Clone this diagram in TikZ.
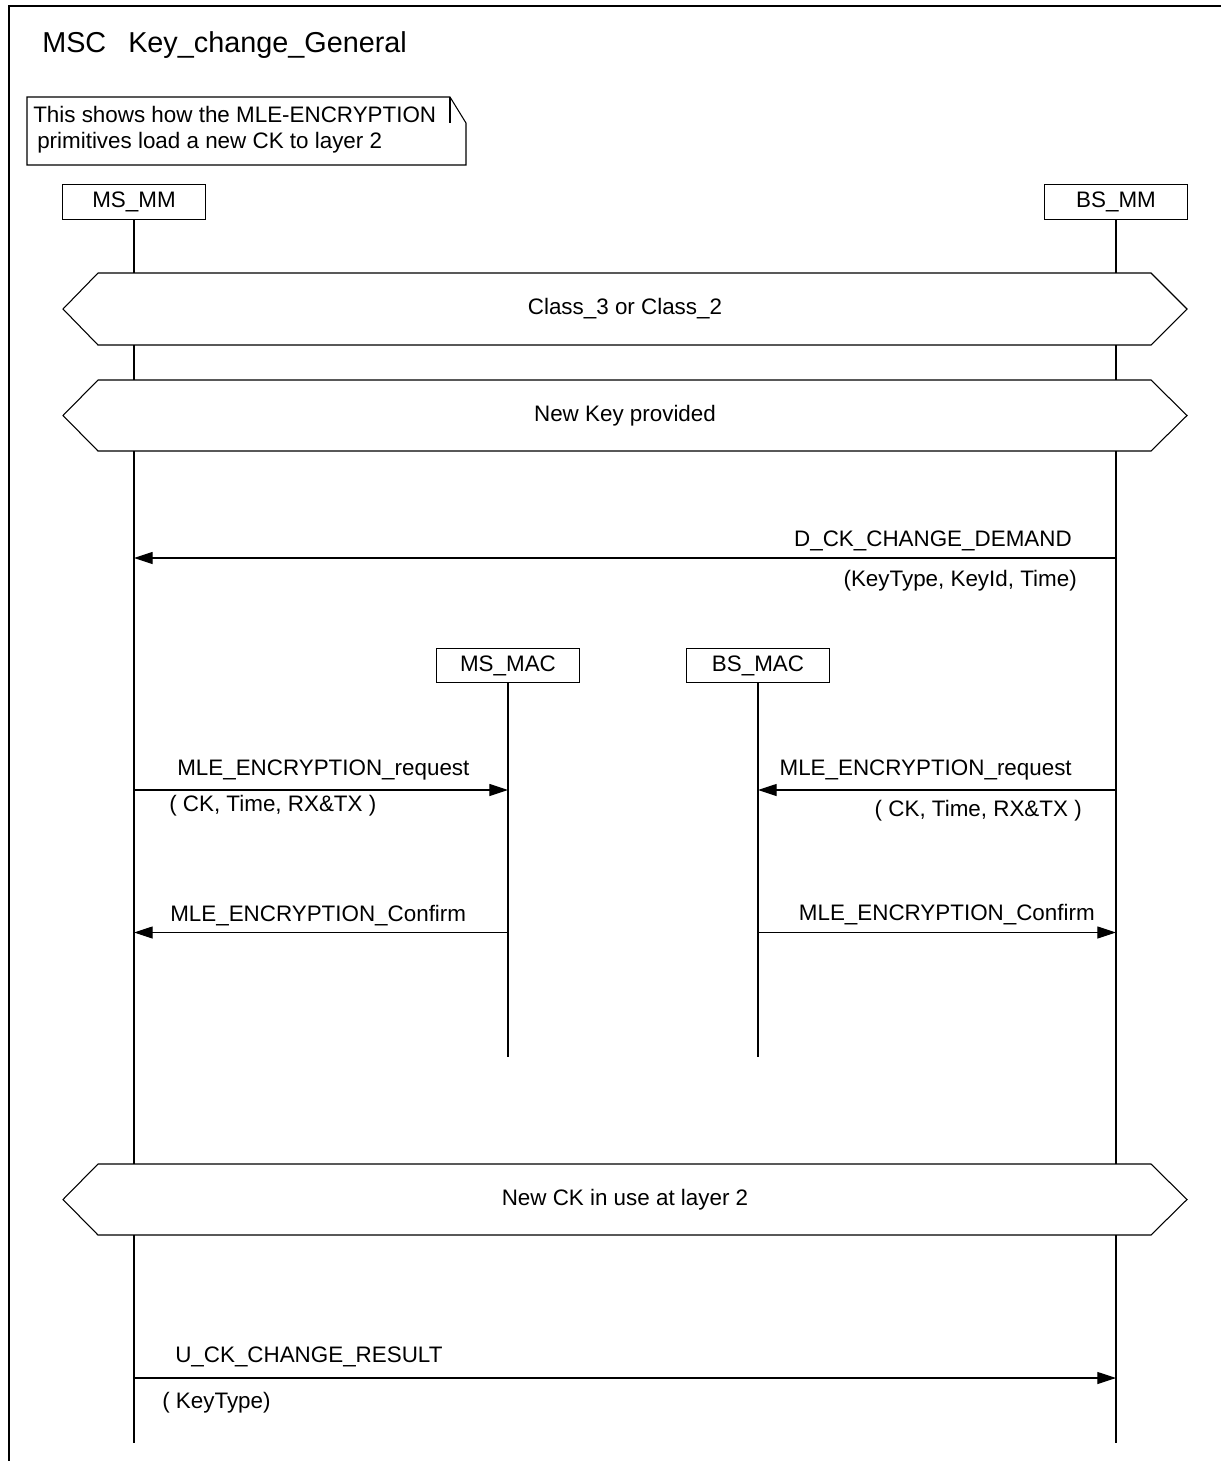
\documentclass[tikz,border=0pt]{standalone}
\usepackage{fontspec}
\setmainfont{Liberation Sans}
\usetikzlibrary{arrows.meta}
\begin{document}
\begin{tikzpicture}[x=0.75pt,y=-0.75pt,
  every node/.style={font=\fontsize{16.8}{20}\selectfont},
  ln/.style={line width=0.8pt},
  head/.style={draw, line width=0.8pt, minimum width=107pt, minimum height=26pt, inner sep=0},
  lbl/.style={inner sep=0},
  msg/.style={line width=0.8pt, -{Triangle[length=14pt,width=9pt]}},
  hexa/.style={draw, line width=0.8pt, fill=white},
]
\useasboundingbox (0,0) rectangle (1221,1461);
% frame
\draw[ln] (9,1461) -- (9,6) -- (1221,6);
\node[lbl, anchor=base west, font=\fontsize{21.6}{26}\selectfont] (msc) at (42,52) {MSC};
\node[lbl, anchor=base west, font=\fontsize{21.6}{26}\selectfont] (title) at (128,52) {Key\_change\_General};
% comment
\draw[ln] (27,97) -- (450,97) -- (466,123) -- (466,165) -- (27,165) -- cycle;
\draw[ln] (450,97) -- (450,123);
\node[lbl, anchor=base west] (c1) at (33,122) {This shows how the MLE-ENCRYPTION};
\node[lbl, anchor=base west] (c2) at (37,148) {primitives load a new CK to layer 2};
% instance heads
\node[head] (msmm) at (134,202) {MS\_MM};
\node[head] (bsmm) at (1116,202) {BS\_MM};
\node[head] (msmac) at (508,665.5) {MS\_MAC};
\node[head] (bsmac) at (758,665.5) {BS\_MAC};
% hexagons
\newcommand\mschexa[4]{%
  \draw[hexa] (98,#1) -- (1151,#1) -- (1187,{(#1+#2)/2}) -- (1151,#2) -- (98,#2) -- (63,{(#1+#2)/2}) -- cycle;
  \node[lbl] (#4) at (625,{(#1+#2)/2}) {#3};
  \coordinate (#4-mst) at (134,#1); \coordinate (#4-msb) at (134,#2);
  \coordinate (#4-bst) at (1116,#1); \coordinate (#4-bsb) at (1116,#2);}
\mschexa{273}{345}{Class\_3 or Class\_2}{h1}
\mschexa{380}{451}{New Key provided}{h2}
\mschexa{1164}{1235}{New CK in use at layer 2}{h3}
\coordinate (msend) at (134,1443);
\coordinate (bsend) at (1116,1443);
\coordinate (msmacend) at (508,1057);
\coordinate (bsmacend) at (758,1057);
% lifelines
\draw[ln] (msmm.south) -- (h1-mst) (h1-msb) -- (h2-mst) (h2-msb) -- (h3-mst) (h3-msb) -- (msend);
\draw[ln] (bsmm.south) -- (h1-bst) (h1-bsb) -- (h2-bst) (h2-bsb) -- (h3-bst) (h3-bsb) -- (bsend);
\draw[ln] (msmac.south) -- (msmacend);
\draw[ln] (bsmac.south) -- (bsmacend);
% message points
\coordinate (d-bs) at (1116,558); \coordinate (d-ms) at (134,558);
\coordinate (rq1-ms) at (134,790); \coordinate (rq1-mac) at (508,790);
\coordinate (rq2-bs) at (1116,790); \coordinate (rq2-mac) at (758,790);
\coordinate (cf1-mac) at (508,932.5); \coordinate (cf1-ms) at (134,932.5);
\coordinate (cf2-mac) at (758,932.5); \coordinate (cf2-bs) at (1116,932.5);
\coordinate (u-ms) at (134,1378); \coordinate (u-bs) at (1116,1378);
% messages
\draw[msg] (d-bs) -- (d-ms);
\node[lbl, anchor=base east] (dl) at (1072,546) {D\_CK\_CHANGE\_DEMAND};
\node[lbl, anchor=base east] (dp) at (1077,586) {(KeyType, KeyId, Time)};
\draw[msg] (rq1-ms) -- (rq1-mac);
\node[lbl, anchor=base west] (rq1l) at (177,775) {MLE\_ENCRYPTION\_request};
\node[lbl, anchor=base west] (rq1p) at (169,811) {( CK, Time, RX\&TX )};
\draw[msg] (rq2-bs) -- (rq2-mac);
\node[lbl, anchor=base east] (rq2l) at (1072,775) {MLE\_ENCRYPTION\_request};
\node[lbl, anchor=base east] (rq2p) at (1082,816) {( CK, Time, RX\&TX )};
\draw[msg] (cf1-mac) -- (cf1-ms);
\node[lbl, anchor=base west] (cf1l) at (170,921) {MLE\_ENCRYPTION\_Confirm};
\draw[msg] (cf2-mac) -- (cf2-bs);
\node[lbl, anchor=base east] (cf2l) at (1095,920) {MLE\_ENCRYPTION\_Confirm};
\draw[msg] (u-ms) -- (u-bs);
\node[lbl, anchor=base west] (ul) at (175,1362) {U\_CK\_CHANGE\_RESULT};
\node[lbl, anchor=base west] (up) at (162,1408) {( KeyType)};
\end{tikzpicture}
\end{document}
